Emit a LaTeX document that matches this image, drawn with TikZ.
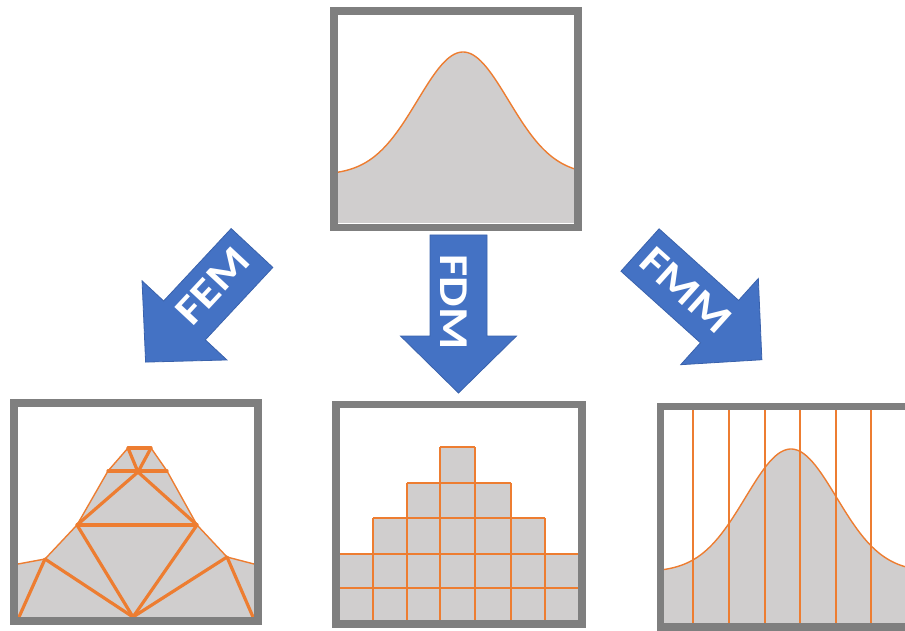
\documentclass[tikz,border=0pt]{standalone}
\usepackage{fontspec}
\setmainfont{Carlito}
\usetikzlibrary{calc}
\definecolor{framegray}{HTML}{7F7F7F}
\definecolor{areagray}{HTML}{D0CECE}
\definecolor{meshorange}{HTML}{ED7D31}
\definecolor{arrowblue}{HTML}{4472C4}
\definecolor{arrowedge}{HTML}{3A62AC}
\tikzset{
  frame/.style={draw=framegray, line width=7.5pt},
  area/.style={fill=areagray},
  outline/.style={draw=meshorange, line width=1.4pt},
  meshedge/.style={draw=meshorange, line width=3.2pt, line cap=round},
  gridline/.style={draw=meshorange, line width=2pt},
  stripline/.style={draw=meshorange, line width=2.6pt},
  blockarrow/.style={fill=arrowblue, draw=arrowedge, line width=0.8pt},
  arrowlabel/.style={text=white, font=\fontsize{41}{41}\selectfont\bfseries, inner sep=0pt, xscale=1.18}
}
% block arrow: tail centre, direction, length
\newcommand{\flowarrow}[3]{%
  \begin{scope}[shift={#1}, rotate=#2]
    \draw[blockarrow] (0,-28.5) -- ({#3-57},-28.5) -- ({#3-57},-58) -- (#3,0)
      -- ({#3-57},58) -- ({#3-57},28.5) -- (0,28.5) -- cycle;
  \end{scope}}
\begin{document}
\begin{tikzpicture}[x=1pt, y=-1pt]
  \useasboundingbox (0,0) rectangle (905,631);
  \clip (0,0) rectangle (905,631);

  % source field
  \fill[area] (337,223) -- plot[domain=337:574, samples=90] (\x,{175-123*exp(-((\x-463)/45.5)^2/2)}) -- (574,223) -- cycle;
  \draw[outline] plot[domain=337:574, samples=90] (\x,{175-123*exp(-((\x-463)/45.5)^2/2)});
  \draw[frame] (334,11) rectangle (578,227.5);

  % arrows
  \flowarrow{(252,248)}{-133}{156}
  \flowarrow{(458.5,235)}{-90}{158}
  \flowarrow{(640,250)}{-42}{164}
  \node[rotate=47, arrowlabel] (femlabel) at (213,286) {FEM};
  \node[rotate=-90, arrowlabel] (fdmlabel) at (454,302) {FDM};
  \node[rotate=-42, arrowlabel] (fmmlabel) at (686,290) {FMM};

  % FEM mesh
  \coordinate (l) at (18,564);  \coordinate (r) at (254,564);
  \coordinate (p1) at (45,559); \coordinate (p2) at (77,525);
  \coordinate (p3) at (108,471); \coordinate (p4) at (128,448);
  \coordinate (p5) at (151,448); \coordinate (p6) at (138,472);
  \coordinate (p7) at (167,471); \coordinate (p8) at (197,525);
  \coordinate (p9) at (227,557);
  \coordinate (bl) at (19,617); \coordinate (bc) at (133,617); \coordinate (br) at (253,617);
  \fill[area] (18,617) -- (l) -- (p1) -- (p2) -- (p3) -- (p4) -- (p5) -- (p7) -- (p8) -- (p9) -- (r) -- (254,617) -- cycle;
  \draw[outline] (l) -- (p1) -- (p2) -- (p3) -- (p4);
  \draw[outline] (p5) -- (p7) -- (p8) -- (p9) -- (r);
  \foreach \a/\b in {bl/p1, p1/bc, p2/bc, p8/bc, p9/bc, p9/br, p2/p8, p2/p6, p6/p8, p3/p7, p4/p6, p5/p6, p4/p5}
    \draw[meshedge] (\a) -- (\b);
  \draw[frame] (14,403) rectangle (258,621);

  % FDM grid
  \fill[area] (340,620) -- (340,554) -- (373,554) -- (373,518) -- (407,518) -- (407,483) -- (440,483) -- (440,447)
    -- (475,447) -- (475,483) -- (511,483) -- (511,518) -- (545,518) -- (545,554) -- (578,554) -- (578,620) -- cycle;
  \foreach \x/\t in {373/518, 407/483, 440/447, 475/447, 511/483, 545/518}
    \draw[gridline] (\x,\t) -- (\x,620);
  \foreach \y/\a/\b in {447/440/475, 483/407/511, 518/373/545, 554/340/578, 588/340/578}
    \draw[gridline] (\a,\y) -- (\b,\y);
  \draw[frame] (336,404.5) rectangle (582,624);

  % FMM strips
  \begin{scope}[shift={(328,397)}]
    \fill[area] (336,226) -- plot[domain=336:590, samples=90] (\x,{175-123*exp(-((\x-463)/45.5)^2/2)}) -- (590,226) -- cycle;
    \draw[outline] plot[domain=336:590, samples=90] (\x,{175-123*exp(-((\x-463)/45.5)^2/2)});
  \end{scope}
  \foreach \x in {693,729,765,800,836,871}
    \draw[stripline] (\x,410) -- (\x,623);
  \draw[frame] (660.5,406.5) rectangle (912,627);
\end{tikzpicture}
\end{document}
